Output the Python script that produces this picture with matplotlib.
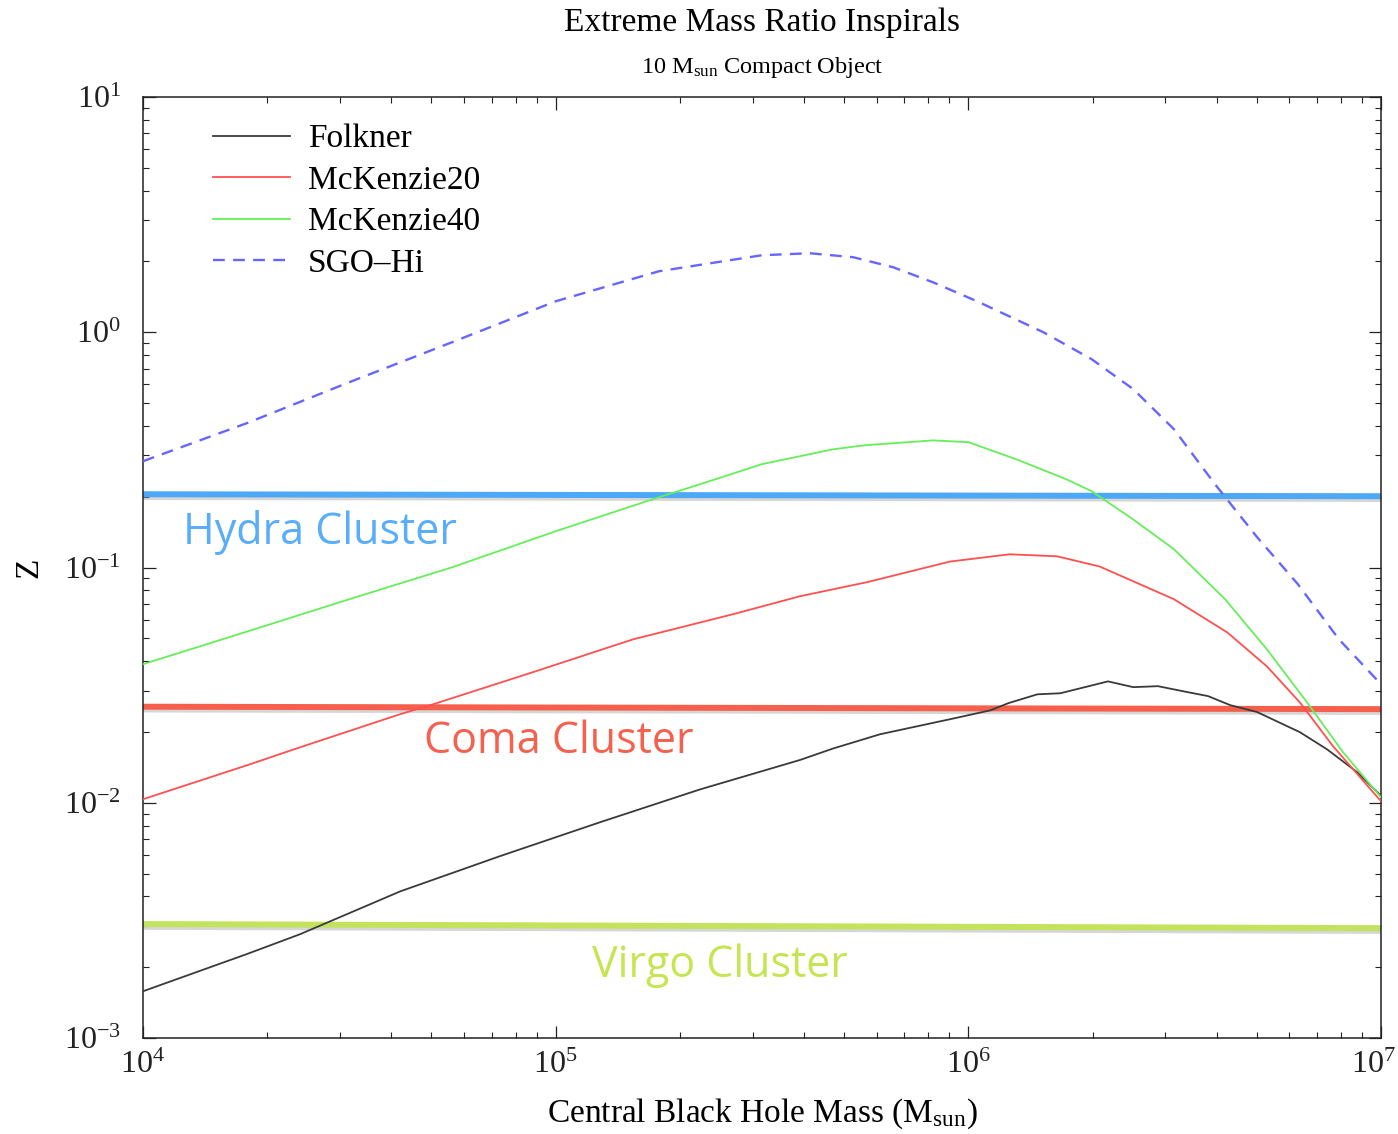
import matplotlib
matplotlib.use("Agg")
import matplotlib.pyplot as plt
import matplotlib.patheffects as pe
import matplotlib.transforms as mtransforms

plt.rcParams['font.family'] = ['Liberation Serif', 'DejaVu Serif']
plt.rcParams['mathtext.fontset'] = 'custom'
plt.rcParams['mathtext.rm'] = 'Liberation Serif'
plt.rcParams['mathtext.it'] = 'Liberation Serif:italic'
plt.rcParams['mathtext.bf'] = 'Liberation Serif:bold'

# ---------------- data ----------------
folkner_m = [1.0e4, 1.78e4, 2.40e4, 4.20e4, 7.33e4, 1.28e5, 2.24e5, 3.91e5, 4.70e5,
             6.11e5, 9.03e5, 1.13e6, 1.25e6, 1.47e6, 1.67e6, 2.18e6, 2.51e6, 2.88e6,
             3.31e6, 3.81e6, 4.31e6, 5.01e6, 6.36e6, 7.40e6, 8.75e6, 1.0e7]
folkner_z = [0.00158, 0.00227, 0.00276, 0.0042, 0.00593, 0.00826, 0.0114, 0.0152, 0.0170,
             0.01955, 0.02265, 0.0247, 0.0265, 0.0289, 0.0292, 0.0328, 0.0310, 0.0313,
             0.0298, 0.0284, 0.0260, 0.0243, 0.01995, 0.01687, 0.0135, 0.0107]

mck20_m = [1.0e4, 1.78e4, 2.40e4, 4.20e4, 5.04e4, 8.81e4, 1.54e5, 2.69e5, 3.91e5, 5.68e5,
           9.03e5, 1.26e6, 1.64e6, 2.08e6, 3.15e6, 4.24e6, 5.29e6, 6.36e6, 7.65e6, 1.0e7]
mck20_z = [0.01035, 0.0144, 0.0172, 0.0238, 0.0262, 0.0359, 0.0495, 0.0633, 0.0755, 0.0866,
           0.106, 0.1138, 0.1116, 0.101, 0.0733, 0.053, 0.038, 0.0267, 0.0174, 0.01015]

mck40_m = [1.0e4, 1.78e4, 3.16e4, 5.61e4, 1.0e5, 1.78e5, 2.24e5, 3.16e5, 4.70e5, 5.62e5,
           8.21e5, 1.0e6, 1.31e6, 1.73e6, 1.99e6, 2.51e6, 3.15e6, 4.19e6, 5.29e6, 6.62e6,
           8.09e6, 1.0e7]
mck40_z = [0.0388, 0.0533, 0.0733, 0.1002, 0.1426, 0.199, 0.226, 0.275, 0.318, 0.331,
           0.347, 0.341, 0.288, 0.237, 0.211, 0.160, 0.1196, 0.0733, 0.0449, 0.0267,
           0.0164, 0.01055]

sgo_m = [1.0e4, 1.78e4, 3.16e4, 5.61e4, 1.0e5, 1.78e5, 3.16e5, 4.13e5, 5.26e5, 6.57e5,
         8.21e5, 1.05e6, 1.52e6, 1.99e6, 2.51e6, 3.15e6, 3.96e6, 5.01e6, 6.29e6, 7.91e6, 1.0e7]
sgo_z = [0.283, 0.410, 0.613, 0.907, 1.354, 1.817, 2.125, 2.167, 2.084, 1.890,
         1.631, 1.354, 1.0, 0.768, 0.573, 0.387, 0.226, 0.1345, 0.0849, 0.0495, 0.0319]

cluster_m = [1.0e4, 1.0e7]
hydra_z = [0.2048, 0.2009]
coma_z = [0.0256, 0.0250]
virgo_z = [0.00305, 0.00293]

series_labels = ['Folkner', 'McKenzie20', 'McKenzie40', 'SGO\u2013Hi']
cluster_names = ['Hydra Cluster', 'Coma Cluster', 'Virgo Cluster']

# ---------------- figure ----------------
W, H = 1398, 1134
fig = plt.figure(figsize=(W / 100, H / 100), dpi=100)
ax = fig.add_axes([143 / W, 1 - 1038 / H, (1381 - 143) / W, (1038 - 97) / H])
ax.set_xscale('log')
ax.set_yscale('log')
ax.set_xlim(1e4, 1e7)
ax.set_ylim(1e-3, 1e1)

shadow = [pe.SimpleLineShadow(offset=(0, -2.0), shadow_color='#999999', alpha=0.4),
          pe.Normal()]
ax.plot(cluster_m, hydra_z, color='#4da8f7', lw=4.3, solid_capstyle='butt',
        path_effects=shadow, zorder=2)
ax.plot(cluster_m, coma_z, color='#f65f4c', lw=4.3, solid_capstyle='butt',
        path_effects=shadow, zorder=2)
ax.plot(cluster_m, virgo_z, color='#c3e35c', lw=4.3, solid_capstyle='butt',
        path_effects=shadow, zorder=2)

l1, = ax.plot(folkner_m, folkner_z, color='#3a3a3a', lw=1.3, zorder=3)
l2, = ax.plot(mck20_m, mck20_z, color='#ff4f4f', lw=1.3, zorder=3)
l3, = ax.plot(mck40_m, mck40_z, color='#66ee5a', lw=1.3, zorder=3)
l4, = ax.plot(sgo_m, sgo_z, color='#6666ff', lw=1.7, ls=(0, (5, 3.5)), zorder=3)

lab_font = dict(family=['Open Sans', 'DejaVu Sans'], fontsize=31)
ax.text(1.25e4, 0.141, cluster_names[0], color='#5aadf8', va='center', ha='left', **lab_font)
ax.text(4.80e4, 0.01825, cluster_names[1], color='#f4624f', va='center', ha='left', **lab_font)
ax.text(1.224e5, 0.00202, cluster_names[2], color='#c6e552', va='center', ha='left', **lab_font)

leg = ax.legend([l1, l2, l3, l4], series_labels, loc='upper left',
                bbox_to_anchor=((213 - 143) / (1381 - 143), 0.9715),
                frameon=False, fontsize=24, handlelength=2.3, handletextpad=0.55,
                labelspacing=0.33, borderpad=0, borderaxespad=0)

ax.tick_params(which='both', direction='in', top=True, right=True, colors='#222222')
ax.tick_params(which='major', length=9, width=0.9, labelsize=23)
ax.tick_params(which='minor', length=4.5, width=0.8)
ax.tick_params(axis='x', which='major', pad=9)
ax.tick_params(axis='y', which='major', pad=16)
for s in ax.spines.values():
    s.set_linewidth(1.1)
    s.set_color('#222222')

ax.set_xlabel(r'Central Black Hole Mass (M$_{\rm sun}$)', fontsize=24, labelpad=12)
ax.set_ylabel('Z', fontsize=24, labelpad=14)

# keep the last x tick label inside the canvas
fig.canvas.draw()
xt = ax.get_xticklabels()
for t in xt:
    if t.get_text() and '7' in t.get_text():
        t.set_transform(t.get_transform() +
                        mtransforms.ScaledTranslation(-8 / 100, 0, fig.dpi_scale_trans))

cx = (143 + 1381) / 2 / W
fig.text(cx, 1 - 23 / H, 'Extreme Mass Ratio Inspirals', ha='center', va='center', fontsize=24)
fig.text(cx, 1 - 68 / H, r'10 M$_{\rm sun}$ Compact Object', ha='center', va='center', fontsize=17.5)

fig.savefig('out.png', dpi=100)
